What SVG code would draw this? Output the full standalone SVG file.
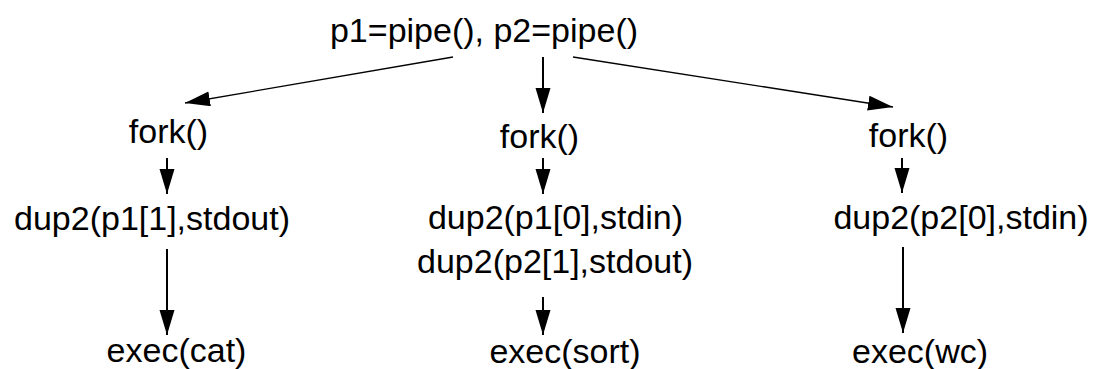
<svg xmlns="http://www.w3.org/2000/svg" width="1094" height="369" viewBox="0 0 1094 369">
<style>
text { font-family: "Liberation Sans", Arial, Helvetica, sans-serif; font-size: 34px; fill: #000; text-anchor: middle; }
.c { stroke: #000; fill: none; }
.d { stroke-width: 1.3; }
.v { stroke-width: 2; }
</style>
<defs>
<marker id="ah" markerUnits="userSpaceOnUse" markerWidth="26" markerHeight="16" refX="25" refY="7.5" orient="auto">
<path d="M0,0 L25,7.5 L0,15 z" fill="#000"/>
</marker>
</defs>
<g id="connectors">
<line class="c d" x1="453" y1="57" x2="185" y2="103" marker-end="url(#ah)"/>
<line class="c v" x1="543" y1="57" x2="543" y2="113" marker-end="url(#ah)"/>
<line class="c d" x1="573" y1="57" x2="893" y2="107" marker-end="url(#ah)"/>
<line class="c v" x1="167" y1="158" x2="167" y2="194" marker-end="url(#ah)"/>
<line class="c v" x1="167" y1="249" x2="167" y2="335" marker-end="url(#ah)"/>
<line class="c v" x1="543" y1="158" x2="543" y2="194" marker-end="url(#ah)"/>
<line class="c v" x1="543" y1="297" x2="543" y2="335" marker-end="url(#ah)"/>
<line class="c v" x1="902" y1="158" x2="902" y2="193" marker-end="url(#ah)"/>
<line class="c v" x1="903" y1="247" x2="903" y2="333" marker-end="url(#ah)"/>
</g>
<g id="pipes"><text x="484" y="42">p1=pipe(), p2=pipe()</text></g>
<g id="fork1"><text x="168.5" y="143">fork()</text></g>
<g id="fork2"><text x="539.5" y="148">fork()</text></g>
<g id="fork3"><text x="908.5" y="147">fork()</text></g>
<g id="dup1"><text x="152" y="230">dup2(p1[1],stdout)</text></g>
<g id="dup2"><text x="555.5" y="229">dup2(p1[0],stdin)</text><text x="555" y="273">dup2(p2[1],stdout)</text></g>
<g id="dup3"><text x="961" y="229">dup2(p2[0],stdin)</text></g>
<g id="exec1"><text x="176.5" y="362">exec(cat)</text></g>
<g id="exec2"><text x="565" y="363">exec(sort)</text></g>
<g id="exec3"><text x="920" y="363">exec(wc)</text></g>
</svg>
